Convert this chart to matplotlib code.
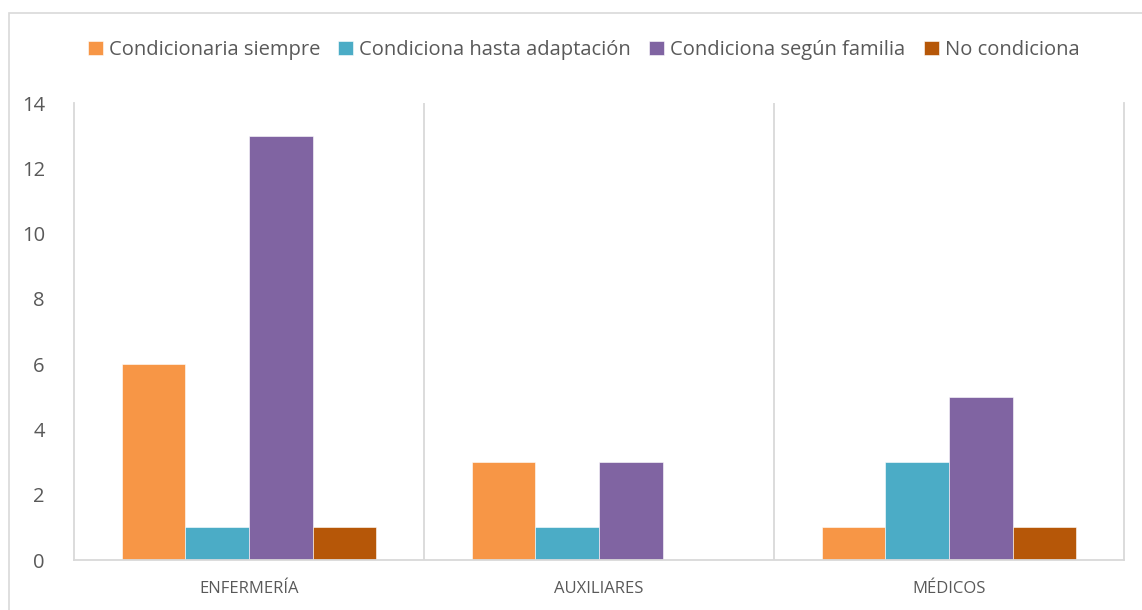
import matplotlib.pyplot as plt
import numpy as np
from matplotlib.patches import Rectangle

categories = ["ENFERMERÍA", "AUXILIARES", "MÉDICOS"]
series_names = ["Condicionaria siempre", "Condiciona hasta adaptación",
                "Condiciona según familia", "No condiciona"]
values = {
    "Condicionaria siempre": [6, 3, 1],
    "Condiciona hasta adaptación": [1, 1, 3],
    "Condiciona según familia": [13, 3, 5],
    "No condiciona": [1, 0, 1],
}
colors = ["#F79646", "#4BACC6", "#8064A2", "#B65708"]
y_ticks = [0, 2, 4, 6, 8, 10, 12, 14]

plt.rcParams['font.family'] = ['Open Sans', 'DejaVu Sans']
text_col = "#595959"
grid_col = "#D9D9D9"

fig = plt.figure(figsize=(11.42, 6.10), dpi=100)
ax = fig.add_axes([74 / 1142, 1 - 560 / 610, 1050 / 1142, 457 / 610])

# chart outline
fig.patches.append(Rectangle((9 / 1142, -0.01), 1.2, 1 - 13 / 610 + 0.01,
                             transform=fig.transFigure, fill=False,
                             edgecolor=grid_col, linewidth=1.2))

x = np.arange(len(categories))
bw = 0.1815
for i, name in enumerate(series_names):
    ax.bar(x + (i - 1.5) * bw, values[name], width=bw, color=colors[i],
           label=name, edgecolor="white", linewidth=0.4)

ax.set_xlim(-0.5, len(categories) - 0.5)
ax.set_ylim(0, 14)
ax.set_yticks(y_ticks)
ax.set_xticks(x)
ax.set_xticklabels(categories)
ax.set_xticks([0.5, 1.5], minor=True)
ax.grid(True, axis="x", which="minor", color=grid_col, linewidth=1.3)
ax.set_axisbelow(True)
ax.tick_params(which="both", length=0)
ax.tick_params(axis="y", labelsize=14.5, colors=text_col, pad=21)
ax.tick_params(axis="x", labelsize=12, colors=text_col, pad=15)
for s in ["left", "right", "bottom"]:
    ax.spines[s].set_color(grid_col)
    ax.spines[s].set_linewidth(1.3)
ax.spines["top"].set_visible(False)

leg = fig.legend(loc="center", bbox_to_anchor=(0.511, 1 - 50 / 610), ncol=4,
                 frameon=False, fontsize=14.5, handlelength=0.75, handleheight=0.75,
                 handletextpad=0.3, columnspacing=0.9)
for t in leg.get_texts():
    t.set_color(text_col)

fig.savefig("out.png", dpi=100)
